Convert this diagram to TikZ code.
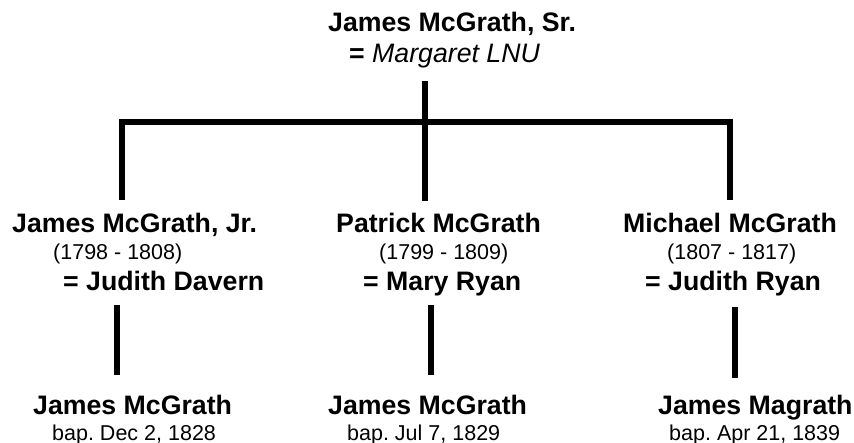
\documentclass[tikz,border=0pt]{standalone}
\usepackage{fontspec}
\setmainfont{Liberation Sans}
\frenchspacing
\begin{document}
\begin{tikzpicture}[x=1pt,y=-1pt,
  pname/.style={anchor=base west,inner sep=0pt,font=\fontsize{26.7}{30}\selectfont\bfseries},
  spouse/.style={anchor=base west,inner sep=0pt,font=\fontsize{26.7}{30}\selectfont\bfseries},
  info/.style={anchor=base west,inner sep=0pt,font=\fontsize{21.5}{24}\selectfont\frenchspacing},
  link/.style={line width=6pt,line cap=butt},
  blink/.style={line width=5.5pt,line cap=butt}]
\useasboundingbox[fill=white] (0,0) rectangle (854,443);
% generation 1
\node[pname] (sr) at (328,32) {James McGrath, Sr.};
\node[spouse] (srw) at (349,63) {= \mdseries\itshape Margaret LNU};
% generation 2
\node[pname] (jr) at (12,233) {James McGrath, Jr.};
\node[info] (jry) at (53,260) {(1798 - 1808)};
\node[spouse] (jrw) at (63,291) {= Judith Davern};
\node[pname] (pat) at (336,233) {Patrick McGrath};
\node[info] (paty) at (379,260) {(1799 - 1809)};
\node[spouse] (patw) at (363,291) {= Mary Ryan};
\node[pname] (mic) at (623,233) {Michael McGrath};
\node[info] (micy) at (667,260) {(1807 - 1817)};
\node[spouse] (micw) at (645,291) {= Judith Ryan};
% generation 3
\node[pname] (c1) at (33,414) {James McGrath};
\node[info] (c1b) at (52,440) {bap. Dec 2, 1828};
\node[pname] (c2) at (328,414) {James McGrath};
\node[info] (c2b) at (347,440) {bap. Jul 7, 1829};
\node[pname] (c3) at (658,414) {James Magrath};
\node[info] (c3b) at (669,440) {bap. Apr 21, 1839};
% connector points
\coordinate (srdown) at (425,81);
\coordinate (bar) at (425,122);
\coordinate (barL) at (119,122);
\coordinate (barR) at (733,122);
\coordinate (jrtop) at (122,122);
\coordinate (jrend) at (122,200);
\coordinate (pattop) at (425,122);
\coordinate (patend) at (425,201);
\coordinate (mictop) at (730,122);
\coordinate (micend) at (730,200);
\coordinate (c1top) at (117,305);
\coordinate (c1end) at (117,375);
\coordinate (c2top) at (431,305);
\coordinate (c2end) at (431,375);
\coordinate (c3top) at (735,307);
\coordinate (c3end) at (735,378);
% connectors
\draw[link] (srdown) -- (bar);
\draw[link] (barL) -- (barR);
\draw[link] (jrtop) -- (jrend);
\draw[link] (pattop) -- (patend);
\draw[link] (mictop) -- (micend);
\draw[blink] (c1top) -- (c1end);
\draw[blink] (c2top) -- (c2end);
\draw[blink] (c3top) -- (c3end);
\end{tikzpicture}
\end{document}
